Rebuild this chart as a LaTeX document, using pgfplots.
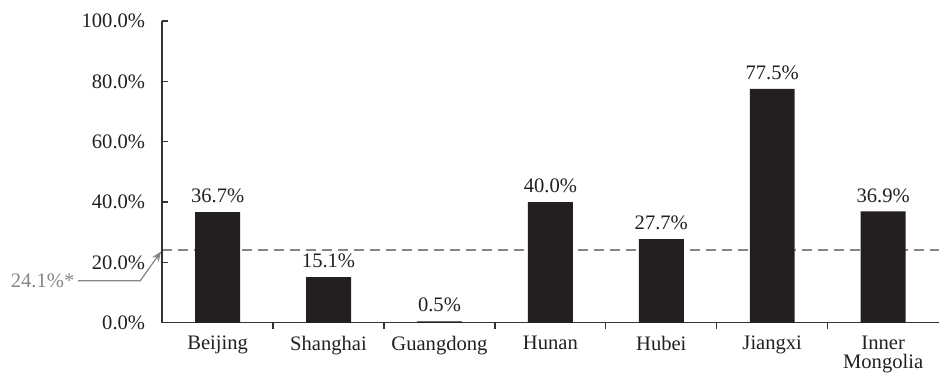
\documentclass[border=0pt]{standalone}
\usepackage{pgfplots}
\pgfplotsset{compat=1.18}
\usepackage{fontspec}
\setmainfont{Liberation Serif}
\usetikzlibrary{arrows.meta}
\definecolor{barcol}{HTML}{231F20}
\definecolor{refgray}{HTML}{858585}
\newcommand{\lblfont}{\fontsize{10.3}{12}\selectfont}
\begin{document}
\begin{tikzpicture}[x=1pt,y=1pt]
\begin{axis}[
  set layers,
  scale only axis,
  width=388.5pt, height=151pt,
  xmin=-0.5, xmax=6.5,
  ymin=0, ymax=100,
  axis x line*=bottom, axis y line*=left,
  axis line style={black!80, line width=0.7pt},
  xtick={0,1,2,3,4,5,6},
  xticklabels={Beijing,Shanghai,Guangdong,Hunan,Hubei,Jiangxi,{Inner\\[-2.5pt]Mongolia}},
  xticklabel style={align=center, text=barcol, font=\lblfont},
  minor xtick={0.5,1.5,2.5,3.5,4.5,5.5},
  major x tick style={draw=none},
  minor tick length=3pt,
  ytick={0,20,40,60,80,100},
  major tick length=3pt,
  tick align=inside,
  tick style={black!80, line width=0.6pt},
  yticklabel style={text=barcol, font=\lblfont, xshift=-5pt},
  yticklabel={\pgfmathprintnumber[fixed,fixed zerofill,precision=1]{\tick}\%},
  /pgf/number format/assume math mode=true,
  clip=false,
  ybar, bar width=0.405,
  nodes near coords={\pgfmathprintnumber[fixed,fixed zerofill,precision=1,assume math mode=true]{\pgfplotspointmeta}\%},
  nodes near coords style={text=barcol, font=\lblfont, yshift=1pt},
]
\addplot[fill=barcol, draw=none] coordinates {
  (0,36.7) (1,15.1) (2,0.5) (3,40.0) (4,27.7) (5,77.5) (6,36.9)
};
% national average reference line, kept behind the bars
\begin{pgfonlayer}{axis background}
\draw[refgray, line width=1.4pt, dash pattern=on 5pt off 3pt]
  (axis cs:-0.5,24.1) -- (axis cs:6.5,24.1);
\end{pgfonlayer}
\draw[refgray, line width=0.6pt, -{Stealth[length=5pt,width=4pt]}]
  (axis cs:-1.257,13.9) -- (axis cs:-0.698,13.9) -- (axis cs:-0.51,23.6);
\node[refgray, anchor=east, font=\lblfont, inner sep=1pt]
  at (axis cs:-1.27,13.9) {24.1\%*};
% page extent
\path (axis cs:-1.962,-17.55) rectangle (axis cs:6.5,106.95);
\end{axis}
\end{tikzpicture}
\end{document}
